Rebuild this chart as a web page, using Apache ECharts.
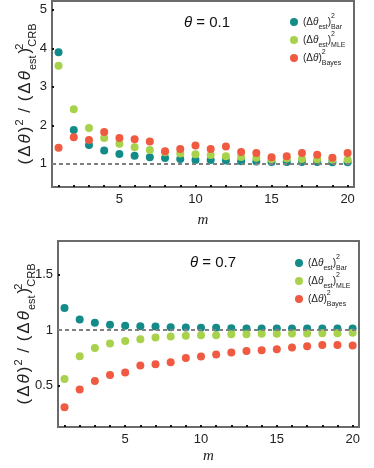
<!DOCTYPE html>
<html>
<head>
<meta charset="utf-8">
<script src="https://cdn.jsdelivr.net/npm/echarts@6/dist/echarts.min.js"></script>
<style>
  html, body { margin: 0; padding: 0; background: #fff; }
  #chart { width: 374px; height: 468px; }
</style>
</head>
<body>
<div id="chart"></div>
<script>
const m = [1, 2, 3, 4, 5, 6, 7, 8, 9, 10, 11, 12, 13, 14, 15, 16, 17, 18, 19, 20]

// theta = 0.1
const barTop = [3.90, 1.88, 1.49, 1.35, 1.26, 1.21, 1.17, 1.15, 1.13, 1.10, 1.10, 1.09, 1.07, 1.06, 1.05, 1.05, 1.05, 1.05, 1.04, 1.04]
const mleTop = [3.55, 2.42, 1.93, 1.67, 1.52, 1.43, 1.36, 1.30, 1.27, 1.25, 1.23, 1.20, 1.18, 1.16, 1.12, 1.14, 1.13, 1.12, 1.11, 1.11]
const bayesTop = [1.42, 1.69, 1.62, 1.83, 1.67, 1.64, 1.58, 1.33, 1.39, 1.48, 1.39, 1.45, 1.31, 1.28, 1.17, 1.20, 1.28, 1.24, 1.16, 1.28]

// theta = 0.7
const barBot = [1.20, 1.097, 1.066, 1.048, 1.039, 1.036, 1.033, 1.027, 1.024, 1.021, 1.021, 1.018, 1.015, 1.015, 1.015, 1.015, 1.015, 1.015, 1.015, 1.015]
const mleBot = [0.56, 0.765, 0.84, 0.88, 0.903, 0.919, 0.934, 0.943, 0.949, 0.955, 0.955, 0.964, 0.964, 0.967, 0.967, 0.97, 0.97, 0.973, 0.973, 0.976]
const bayesBot = [0.304, 0.464, 0.542, 0.596, 0.618, 0.681, 0.693, 0.711, 0.75, 0.762, 0.78, 0.798, 0.813, 0.819, 0.828, 0.843, 0.855, 0.867, 0.867, 0.862]

const xTicks = m
const xLabels = [5, 10, 15, 20]
const yTicksTop = [1, 2, 3, 4, 5]
const yTicksBot = [0.5, 1, 1.5]

const colors = { Bar: '#128b89', MLE: '#a8d24c', Bayes: '#ef5a40' }
const font = 'Liberation Sans, Arial, sans-serif'

const pairs = ys => m.map((x, i) => [x, ys[i]])

const yNameRich = {
  n: { fontSize: 17, lineHeight: 27, padding: [0, 1, 0, 1], fontFamily: font, color: '#222' },
  it: { fontSize: 17, lineHeight: 27, padding: [0, 1, 0, 1], fontStyle: 'italic', fontFamily: font, color: '#222' },
  sup: { fontSize: 11, verticalAlign: 'top', padding: [2, 1, 0, 0], fontFamily: font, color: '#222' },
  sup0: { fontSize: 11, width: 0, verticalAlign: 'top', padding: [2, 0, 0, 0], fontFamily: font, color: '#222' },
  sub: { fontSize: 11, verticalAlign: 'bottom', padding: [0, 1, 1, 0], fontFamily: font, color: '#222' }
}
const yName = '{n|(}{n|Δ}{it|θ}{n|)}{sup|2}{n| / }{n|(}{n|Δ}{it|θ}{sub|est}{n|)}{sup0|2}{sub|CRB}'

const legendRich = {
  n: { fontSize: 10, lineHeight: 18, fontFamily: font, color: '#222' },
  it: { fontSize: 10, lineHeight: 18, fontStyle: 'italic', fontFamily: font, color: '#222' },
  sub: { fontSize: 7, verticalAlign: 'bottom', fontFamily: font, color: '#222' },
  sup0: { fontSize: 7, width: 0, verticalAlign: 'top', fontFamily: font, color: '#222' }
}
const legendText = {
  Bar: '{n|(Δ}{it|θ}{sub|est}{n|)}{sup0|2}{sub|Bar}',
  MLE: '{n|(Δ}{it|θ}{sub|est}{n|)}{sup0|2}{sub|MLE}',
  Bayes: '{n|(Δ}{it|θ}{n|)}{sup0|2}{sub|Bayes}'
}

const titleRich = {
  it: { fontSize: 15, fontStyle: 'italic', fontWeight: 'normal', fontFamily: font, color: '#111' },
  n: { fontSize: 15, fontWeight: 'normal', fontFamily: font, color: '#111' }
}

function xAxis(idx) {
  return {
    gridIndex: idx,
    type: 'value',
    min: 0.57,
    max: 20.42,
    name: 'm',
    nameLocation: 'middle',
    nameGap: idx === 0 ? 26 : 22,
    nameMoveOverlap: false,
    nameTextStyle: { fontFamily: 'Liberation Serif, serif', fontStyle: 'italic', fontSize: 15, color: '#222' },
    axisLine: { show: false },
    axisTick: { show: true, inside: true, length: 2, customValues: xTicks, lineStyle: { color: '#111', width: 2 } },
    axisLabel: { customValues: xLabels, margin: 6, fontSize: 13, fontFamily: font, color: '#222' },
    splitLine: { show: false }
  }
}

function yAxis(idx, min, max, ticks) {
  return {
    gridIndex: idx,
    type: 'value',
    min: min,
    max: max,
    name: yName,
    nameLocation: 'middle',
    nameRotate: 90,
    nameGap: idx === 0 ? 13 : 20,
    nameMoveOverlap: false,
    nameTextStyle: { rich: yNameRich },
    axisLine: { show: false },
    axisTick: { show: true, inside: true, length: 2, customValues: ticks, lineStyle: { color: '#111', width: 2 } },
    axisLabel: { customValues: ticks, margin: 5, fontSize: 13, fontFamily: font, color: '#222' },
    splitLine: { show: false }
  }
}

function scatter(name, data, idx) {
  return {
    name: name,
    type: 'scatter',
    xAxisIndex: idx,
    yAxisIndex: idx,
    data: data,
    symbolSize: 8,
    z: 3,
    itemStyle: { color: colors[name], opacity: 1 }
  }
}

function refLine(idx) {
  return {
    type: 'line',
    xAxisIndex: idx,
    yAxisIndex: idx,
    data: [],
    z: 1,
    markLine: {
      silent: true,
      symbol: 'none',
      label: { show: false },
      lineStyle: { color: '#808080', width: 2, type: [4, 3] },
      data: [{ yAxis: 1 }]
    }
  }
}

function legend(left, top) {
  return {
    orient: 'vertical',
    left: left,
    top: top,
    itemWidth: 8,
    itemHeight: 8,
    itemGap: 0,
    icon: 'circle',
    data: ['Bar', 'MLE', 'Bayes'],
    formatter: name => legendText[name],
    textStyle: { rich: legendRich }
  }
}

const chart = echarts.init(document.getElementById('chart'))
chart.setOption({
  animation: false,
  backgroundColor: '#fff',
  color: [colors.Bar, colors.MLE, colors.Bayes],
  title: [
    { text: '{it|θ}{n| = 0.1}', left: 202, top: 10, textAlign: 'center', textStyle: { rich: titleRich } },
    { text: '{it|θ}{n| = 0.7}', left: 208, top: 250, textAlign: 'center', textStyle: { rich: titleRich } }
  ],
  legend: [legend(285, 8), legend(290, 249)],
  grid: [
    { left: 52, top: 1, width: 302, height: 186, show: true, borderColor: '#6b6b6b', borderWidth: 2, outerBoundsMode: 'none' },
    { left: 58, top: 241, width: 301, height: 186, show: true, borderColor: '#6b6b6b', borderWidth: 2, outerBoundsMode: 'none' }
  ],
  xAxis: [xAxis(0), xAxis(1)],
  yAxis: [yAxis(0, 0.4, 5.23, yTicksTop), yAxis(1, 0.127, 1.804, yTicksBot)],
  series: [
    refLine(0),
    scatter('Bar', pairs(barTop), 0),
    scatter('MLE', pairs(mleTop), 0),
    scatter('Bayes', pairs(bayesTop), 0),
    refLine(1),
    scatter('Bar', pairs(barBot), 1),
    scatter('MLE', pairs(mleBot), 1),
    scatter('Bayes', pairs(bayesBot), 1)
  ]
})
</script>
</body>
</html>
